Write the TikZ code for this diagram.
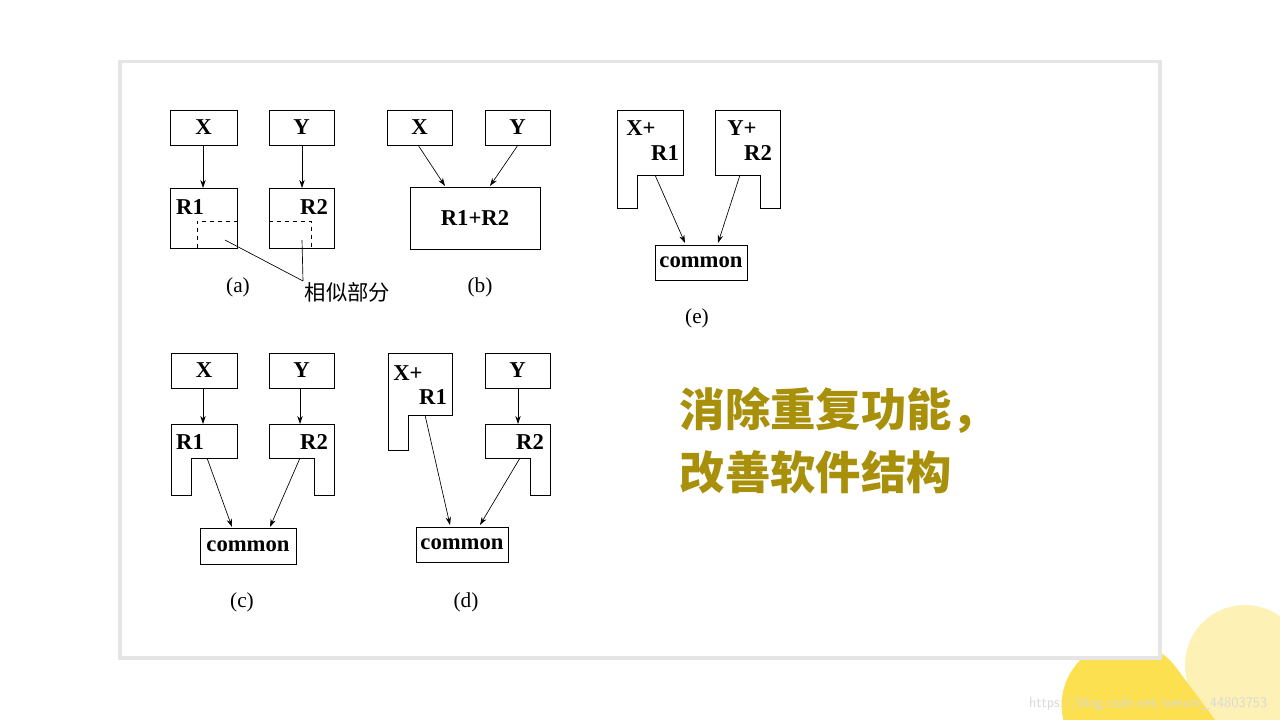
\documentclass[tikz,border=0pt]{standalone}
\usepackage{fontspec}
\setmainfont{Liberation Serif}
\newfontfamily\cjk{Noto Sans CJK SC}
\usetikzlibrary{arrows.meta}
\definecolor{dy}{HTML}{FDE04F}
\definecolor{ly}{HTML}{FDF1B5}
\definecolor{ol}{HTML}{A8900A}
\begin{document}
\begin{tikzpicture}[x=0.75pt,y=-0.75pt,
  bx/.style={draw,line width=0.7pt},
  lab/.style={font=\fontsize{17}{17}\selectfont\bfseries},
  captxt/.style={font=\fontsize{16}{16}\selectfont},
  ar/.style={-{Stealth[length=6pt,width=4pt]},line width=0.5pt}]
\useasboundingbox (0,0) rectangle (1280,720);
\fill[white] (0,0) rectangle (1280,720);
\begin{scope}
\clip (0,0) rectangle (1280,720);
\draw[ly,line width=90pt,line cap=round] (1245,665) -- (1420,900);
\draw[dy,line width=95pt,line cap=round] (1125,705) -- (1300,940);
\end{scope}
\fill[black!10] (118,60) rectangle (1162,660);
\fill[white] (122,63) rectangle (1158,656);
\node[text=black!15,font=\fontsize{11}{11}\selectfont\sffamily,anchor=east] (wm) at (1272,704) {https://blog.csdn.net/weixin\_44803753};
% (a)
\draw[bx] (170,110) rectangle (237,145) node[midway,lab] (ax) {X};
\draw[bx] (269,110) rectangle (334,145) node[midway,lab] (ay) {Y};
\draw[bx] (170,188) rectangle (237,248);
\draw[bx] (269,188) rectangle (334,248);
\node[lab] (ar1) at (190,207) {R1};
\node[lab] (ar2) at (314,207) {R2};
\draw[dashed,line width=0.5pt] (197,248) -- (197,221) -- (237,221);
\draw[dashed,line width=0.5pt] (269,221) -- (311,221) -- (311,248);
\coordinate (at) at (203,188); \coordinate (bt) at (302,188);
\draw[ar] (203,145) -- (at);
\draw[ar] (302,145) -- (bt);
\coordinate (s1) at (225,240); \coordinate (s2) at (302,240); \coordinate (sl) at (303,281);
\draw[line width=0.5pt] (s1) -- (sl); \draw[line width=0.5pt] (s2) -- (sl);
\node[font=\fontsize{16}{16}\selectfont\cjk,anchor=west] (xs) at (300,292) {相似部分};
\node[captxt] (la) at (238,287) {(a)};
% (b)
\draw[bx] (387,110) rectangle (452,145) node[midway,lab] (bx1) {X};
\draw[bx] (485,110) rectangle (550,145) node[midway,lab] (by) {Y};
\draw[bx] (410,187) rectangle (540,249) node[midway,lab] (br) {R1+R2};
\draw[ar] (418,145) -- (445,186);
\draw[ar] (518,145) -- (490,186);
\node[captxt] (lb) at (480,287) {(b)};
% (e)
\draw[bx] (617,110) -- (683,110) -- (683,175) -- (637,175) -- (637,208) -- (617,208) -- cycle;
\draw[bx] (715,110) -- (780,110) -- (780,208) -- (760,208) -- (760,175) -- (715,175) -- cycle;
\node[lab] (e1) at (641,128) {X+}; \node[lab] (e2) at (665,153) {R1};
\node[lab] (e3) at (742,128) {Y+}; \node[lab] (e4) at (758,153) {R2};
\draw[bx] (655,245) rectangle (747,280) node[midway,lab] (ec) {common};
\draw[ar] (655,175) -- (685,243);
\draw[ar] (740,175) -- (718,243);
\node[captxt] (le) at (697,318) {(e)};
% (c)
\draw[bx] (171,353) rectangle (237,388) node[midway,lab] (cx) {X};
\draw[bx] (269,353) rectangle (334,388) node[midway,lab] (cy) {Y};
\draw[bx] (171,424) -- (237,424) -- (237,458) -- (191,458) -- (191,495) -- (171,495) -- cycle;
\draw[bx] (269,424) -- (334,424) -- (334,495) -- (314,495) -- (314,458) -- (269,458) -- cycle;
\node[lab] (c1) at (190,442) {R1}; \node[lab] (c2) at (314,442) {R2};
\draw[ar] (203,388) -- (203,424);
\draw[ar] (300,388) -- (300,424);
\draw[bx] (200,528) rectangle (296,564) node[midway,lab] (cc) {common};
\draw[ar] (207,458) -- (232,527);
\draw[ar] (300,458) -- (270,527);
\node[captxt] (lc) at (242,602) {(c)};
% (d)
\draw[bx] (388,353) -- (452,353) -- (452,415) -- (408,415) -- (408,450) -- (388,450) -- cycle;
\node[lab] (d1) at (408,373) {X+}; \node[lab] (d2) at (433,397) {R1};
\draw[bx] (485,353) rectangle (550,388) node[midway,lab] (dy) {Y};
\draw[bx] (485,424) -- (550,424) -- (550,495) -- (530,495) -- (530,458) -- (485,458) -- cycle;
\node[lab] (d3) at (530,442) {R2};
\draw[ar] (518,388) -- (518,424);
\draw[bx] (416,527) rectangle (508,562) node[midway,lab] (dc) {common};
\draw[ar] (425,415) -- (450,525);
\draw[ar] (520,458) -- (480,525);
\node[captxt] (ld) at (466,602) {(d)};
% text
\node[anchor=west,text=ol,font=\fontsize{34}{34}\selectfont\cjk\bfseries] (t1) at (675,410) {消除重复功能，};
\node[anchor=west,text=ol,font=\fontsize{34}{34}\selectfont\cjk\bfseries] (t2) at (675,472) {改善软件结构};
\end{tikzpicture}
\end{document}
